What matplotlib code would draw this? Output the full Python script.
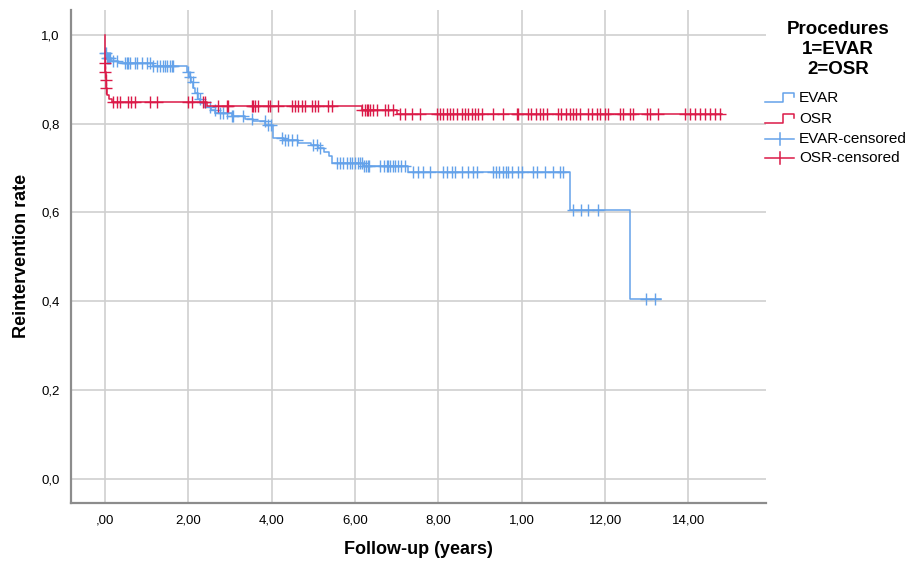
import numpy as np
from matplotlib import pyplot as plt
from matplotlib.lines import Line2D

plt.rcParams['font.family'] = ['Liberation Sans', 'DejaVu Sans']

# Kaplan-Meier steps (time in years, rate after the step)
evar_time = [0.0, 0.05, 0.15, 0.3, 1.15, 1.96, 2.02, 2.07, 2.12, 2.17, 2.22, 2.28, 2.4, 2.55,
             2.65, 3.05, 3.35, 3.55, 3.85, 4.02, 4.3, 4.62, 4.95, 5.1, 5.25, 5.37, 5.45, 6.2,
             7.27, 11.15, 12.6]
evar_surv = [0.959, 0.948, 0.940, 0.936, 0.929, 0.917, 0.905, 0.893, 0.88, 0.868, 0.856, 0.847,
             0.838, 0.831, 0.824, 0.816, 0.81, 0.805, 0.797, 0.767, 0.763, 0.756, 0.752, 0.745,
             0.737, 0.726, 0.711, 0.705, 0.692, 0.605, 0.404]
evar_end = 13.33
evar_cens = [0.01, 0.03, 0.05, 0.07, 0.09, 0.12, 0.2, 0.28, 0.48, 0.52, 0.55, 0.6, 0.72, 0.77,
             0.89, 1.0, 1.08, 1.15, 1.25, 1.32, 1.4, 1.44, 1.49, 1.56, 1.6, 1.63, 1.99, 2.04,
             2.11, 2.2, 2.27, 2.52, 2.64, 2.76, 2.84, 2.93, 3.05, 3.08, 3.31, 3.53, 3.84, 3.91,
             3.98, 4.25, 4.32, 4.39, 4.48, 4.6, 5.0, 5.08, 5.16, 5.56, 5.64, 5.71, 5.8, 5.88,
             5.93, 6.0, 6.06, 6.12, 6.17, 6.22, 6.26, 6.3, 6.34, 6.6, 6.7, 6.76, 6.8, 6.85, 6.9,
             6.95, 7.02, 7.1, 7.2, 7.4, 7.52, 7.64, 7.8, 8.1, 8.2, 8.32, 8.4, 8.56, 8.72, 8.84,
             8.92, 9.3, 9.38, 9.46, 9.55, 9.62, 9.68, 9.77, 9.9, 10.0, 10.27, 10.37, 10.56,
             10.75, 10.92, 10.99, 11.24, 11.41, 11.6, 11.84, 12.97, 13.2]

osr_time = [0.0, 0.002, 0.008, 0.014, 0.02, 0.05, 0.1, 0.17, 2.44, 6.16, 7.0]
osr_surv = [1.0, 0.936, 0.917, 0.898, 0.88, 0.865, 0.856, 0.849, 0.84, 0.831, 0.821]
osr_end = 14.8
osr_cens = [0.005, 0.011, 0.017, 0.023, 0.2, 0.28, 0.36, 0.55, 0.63, 0.72, 1.08, 1.24, 2.0,
            2.08, 2.36, 2.4, 2.7, 2.92, 2.95, 3.52, 3.56, 3.6, 3.67, 3.92, 3.96, 4.16, 4.48,
            4.56, 4.64, 4.72, 4.8, 4.96, 5.03, 5.1, 5.36, 5.45, 6.16, 6.24, 6.28, 6.32, 6.36,
            6.44, 6.52, 6.72, 6.8, 6.92, 7.08, 7.2, 7.37, 7.56, 7.96, 8.04, 8.12, 8.2, 8.28,
            8.36, 8.44, 8.56, 8.64, 8.72, 8.8, 8.88, 8.96, 9.05, 9.3, 9.55, 9.89, 9.92, 10.15,
            10.23, 10.35, 10.43, 10.51, 10.6, 10.87, 10.95, 11.07, 11.15, 11.23, 11.31, 11.4,
            11.6, 11.68, 11.8, 11.88, 12.0, 12.07, 12.36, 12.44, 12.6, 12.67, 13.0, 13.08,
            13.27, 13.92, 14.04, 14.16, 14.28, 14.4, 14.52, 14.64, 14.76]

x_ticks = [0, 2, 4, 6, 8, 10, 12, 14]
y_ticks = [0.0, 0.2, 0.4, 0.6, 0.8, 1.0]

blue = '#64a2ea'
red = '#db1a48'


def rate_at(times, surv, t):
    idx = np.searchsorted(times, t, side='right') - 1
    return np.array(surv)[idx]


def fx(px):
    return px / 912


def fy(py):
    return 1 - py / 564


fig = plt.figure(figsize=(9.12, 5.64), dpi=100)
ax = fig.add_axes([fx(71), fy(503), (766 - 71) / 912, (503 - 10) / 564])

for times, surv, end, cens, col in [(evar_time, evar_surv, evar_end, evar_cens, blue),
                                     (osr_time, osr_surv, osr_end, osr_cens, red)]:
    tt = list(times) + [end]
    ss = list(surv) + [surv[-1]]
    ax.step(tt, ss, where='post', color=col, lw=1.1, zorder=3)
    cens = np.array(cens)
    ax.plot(cens, rate_at(times, surv, cens), ls='none', marker='+', ms=9, mew=1.0,
            color=col, zorder=3)

ax.set_xlim(-0.816, 15.86)
ax.set_ylim(-0.055, 1.056)
ax.set_xticks(x_ticks)
ax.set_xticklabels([('%.2f' % v).replace('.', ',').replace('0,00', ',00') for v in x_ticks])
ax.set_yticks(y_ticks)
ax.set_yticklabels([('%.1f' % v).replace('.', ',') for v in y_ticks])
ax.tick_params(length=0, labelsize=9.5, pad=8)
ax.grid(True, color='#cfcfcf', lw=1.2)
ax.set_axisbelow(True)
for s in ['top', 'right']:
    ax.spines[s].set_visible(False)
for s in ['left', 'bottom']:
    ax.spines[s].set_color('#8c8c8c')
    ax.spines[s].set_linewidth(1.6)

# axis titles placed like the SPSS output
fig.text(fx(22), fy(256), 'Reintervention rate', rotation=90, ha='center', va='center',
         fontsize=13, fontweight='bold')
fig.text(fx(418), fy(550), 'Follow-up (years)', ha='center', va='center',
         fontsize=13, fontweight='bold')

# legend drawn by hand (SPSS style)
for i, line in enumerate(['Procedures', '1=EVAR', '2=OSR']):
    fig.text(fx(838), fy(29 + 20 * i), line, ha='center', va='center',
             fontsize=13.5, fontweight='bold')

entries = [('EVAR', blue, 'step', 98), ('OSR', red, 'step', 119),
           ('EVAR-censored', blue, 'cens', 139), ('OSR-censored', red, 'cens', 158)]
for label, col, kind, py in entries:
    if kind == 'step':
        xs = [765, 783, 783, 794, 794]
        ys = [py + 3.5, py + 3.5, py - 5.5, py - 5.5, py - 1.5]
        fig.add_artist(Line2D([fx(v) for v in xs], [fy(v) for v in ys], color=col, lw=1.1))
    else:
        fig.add_artist(Line2D([fx(765), fx(794)], [fy(py), fy(py)], color=col, lw=1.1))
        fig.add_artist(Line2D([fx(780), fx(780)], [fy(py - 6), fy(py + 6)], color=col, lw=1.1))
    fig.text(fx(799), fy(py), label, ha='left', va='center', fontsize=11)

plt.savefig('out.png', dpi=100)
